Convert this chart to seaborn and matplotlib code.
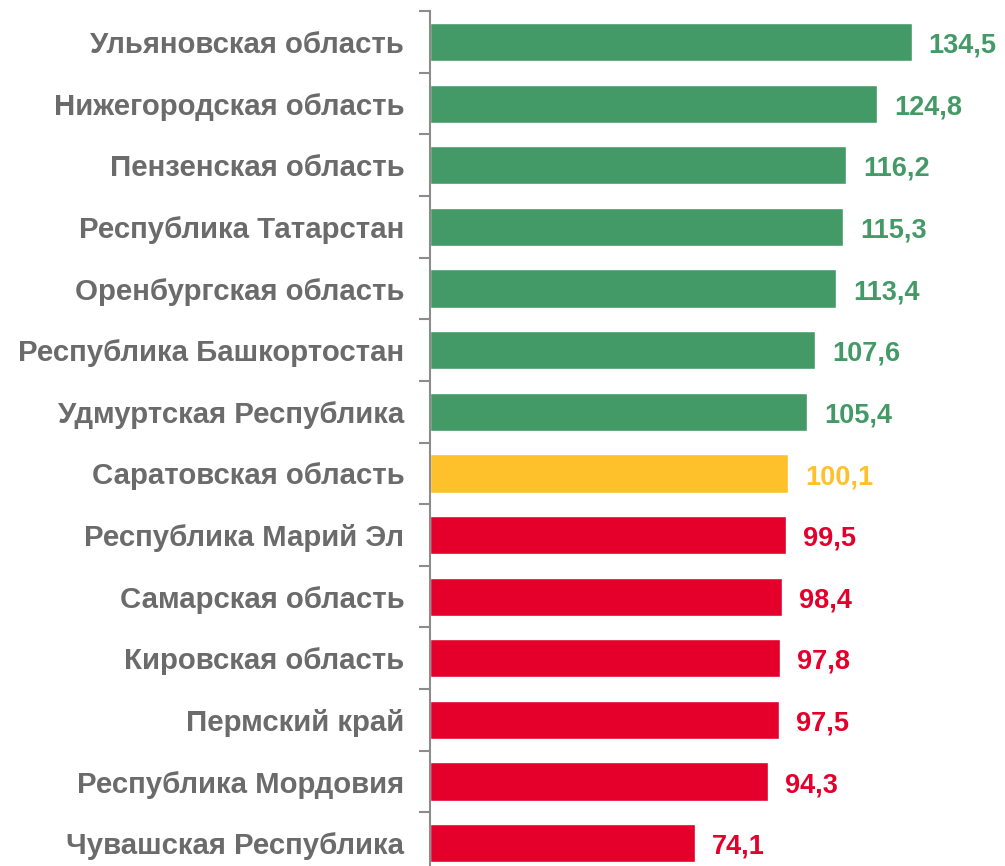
import matplotlib
matplotlib.use("Agg")
import matplotlib.pyplot as plt
import seaborn as sns
import pandas as pd
from matplotlib.ticker import FixedLocator

regions = ["Ульяновская область", "Нижегородская область", "Пензенская область",
           "Республика Татарстан", "Оренбургская область", "Республика Башкортостан",
           "Удмуртская Республика", "Саратовская область", "Республика Марий Эл",
           "Самарская область", "Кировская область", "Пермский край",
           "Республика Мордовия", "Чувашская Республика"]
values = [134.5, 124.8, 116.2, 115.3, 113.4, 107.6, 105.4, 100.1, 99.5, 98.4, 97.8, 97.5, 94.3, 74.1]

GREEN, YELLOW, RED = "#449A67", "#FEC12B", "#E4002B"
def col(v):
    if v > 100.5:
        return GREEN
    if v >= 100:
        return YELLOW
    return RED
colors = [col(v) for v in values]

df = pd.DataFrame({"region": regions, "value": values})

sns.set_style("white")
plt.rcParams["font.family"] = ["Liberation Sans", "DejaVu Sans"]

fig = plt.figure(figsize=(10.05, 8.66), dpi=100)
ax = fig.add_axes([430/1005, -8/866, 573/1005, (874-11.2)/866])

sns.barplot(data=df, y="region", x="value", hue="region", palette=colors,
            saturation=1, legend=False, width=0.62, ax=ax, orient="h")

ax.set_xlim(0, 160)
ax.set_xlabel("")
ax.set_ylabel("")
ax.set_xticks([])
for s in ["top", "right", "bottom"]:
    ax.spines[s].set_visible(False)
ax.spines["left"].set_color("#8c8c8c")
ax.spines["left"].set_linewidth(1.5)

ax.tick_params(axis="y", which="major", length=0, pad=18.5)
ax.yaxis.set_minor_locator(FixedLocator([i + 0.5 for i in range(-1, len(regions))]))
ax.tick_params(axis="y", which="minor", length=8, width=1.5, color="#8c8c8c", left=True)
for lab in ax.get_yticklabels():
    lab.set_fontsize(21.2)
    lab.set_fontweight("bold")
    lab.set_color("#6b6b6b")

for i, (v, c) in enumerate(zip(values, colors)):
    ax.text(v + 4.7, i + 0.06, f"{v:.1f}".replace(".", ","), va="center", ha="left",
            fontsize=19.5, fontweight="bold", color=c)

fig.savefig("out.png", dpi=100)
